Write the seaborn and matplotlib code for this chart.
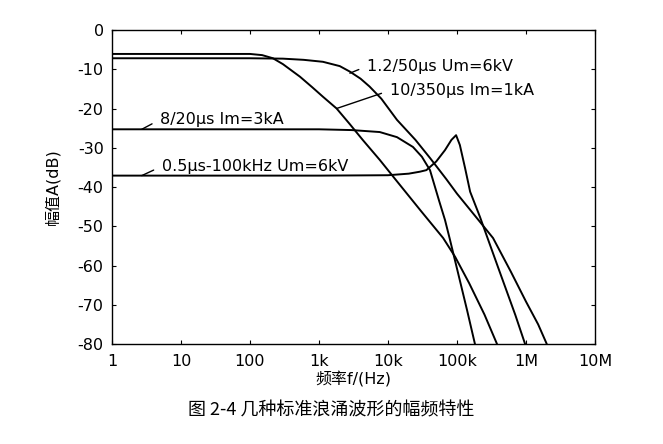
import pandas as pd
import matplotlib
matplotlib.use('Agg')
import matplotlib.pyplot as plt
import seaborn as sns

# Amplitude spectra of standard surge waveforms
# frequency in Hz, amplitude in dB

f_1_2_50 = [1, 100, 300, 600, 1140, 2000, 2800, 4000, 5400, 8000, 13500, 25000, 40600,
            70000, 100000, 200000, 333000, 600000, 1.0e6, 1.5e6, 2.0e6]
a_1_2_50 = [-7.2, -7.2, -7.3, -7.6, -8.1, -9.2, -10.6, -12.4, -14.4, -17.5, -22.9, -28.0, -32.6,
            -38.0, -41.7, -48.2, -53.0, -61.5, -69.2, -75.0, -80.0]

f_10_350 = [1, 100, 150, 215, 300, 530, 800, 1140, 1800, 2800, 4300, 7600, 13000,
            30000, 63000, 94000, 150000, 250000, 380000]
a_10_350 = [-6.1, -6.1, -6.4, -7.2, -8.7, -11.9, -14.6, -17.0, -20.0, -24.0, -28.0, -33.1, -38.2,
            -46.1, -53.0, -57.8, -64.5, -72.5, -80.0]

f_8_20 = [1, 1000, 3000, 7600, 13500, 23000, 31000, 40600, 55000, 67000, 78000,
          100000, 140000, 182000]
a_8_20 = [-25.3, -25.3, -25.5, -26.0, -27.3, -29.8, -32.3, -35.7, -43.5, -48.4, -53.0,
          -60.8, -71.4, -80.0]

f_ring = [1, 1000, 10000, 20000, 29000, 36000, 50000, 67000, 83000, 97000, 110000,
          131000, 155000, 215000, 400000, 700000, 970000]
a_ring = [-37.1, -37.1, -37.0, -36.6, -36.1, -35.7, -33.5, -30.6, -28.0, -26.8, -29.3,
          -35.2, -41.2, -47.6, -60.8, -72.6, -80.0]

series_names = ['1.2/50μs Um=6kV', '10/350μs Im=1kA', '8/20μs Im=3kA', '0.5μs-100kHz Um=6kV']

x_ticks = [1, 10, 100, 1e3, 1e4, 1e5, 1e6, 1e7]
x_tick_labels = ['1', '10', '100', '1k', '10k', '100k', '1M', '10M']
y_ticks = [0, -10, -20, -30, -40, -50, -60, -70, -80]
y_tick_labels = ['0', '-10', '-20', '-30', '-40', '-50', '-60', '-70', '-80']

# leader lines: point on the curve -> start of the label text
label_anchor = [(2800, -11.0), (1800, -20.0), (2.7, -25.3), (2.7, -37.1)]
label_text_pos = [(5000, -9.2), (10700, -15.4), (5.0, -22.8), (5.3, -34.7)]

frames = []
for name, f, a in zip(series_names,
                      [f_1_2_50, f_10_350, f_8_20, f_ring],
                      [a_1_2_50, a_10_350, a_8_20, a_ring]):
    frames.append(pd.DataFrame({'f': f, 'A': a, 'wave': name}))
df = pd.concat(frames, ignore_index=True)

sns.set_theme(style='ticks')
plt.rcParams['font.family'] = ['DejaVu Sans', 'Noto Sans CJK SC']
plt.rcParams['axes.unicode_minus'] = False
plt.rcParams['text.color'] = 'black'
plt.rcParams['axes.labelcolor'] = 'black'

fig = plt.figure(figsize=(6.63, 4.44), dpi=100)
ax = fig.add_axes([112 / 663, 1 - 344 / 444, 483 / 663, 314 / 444])

sns.lineplot(data=df, x='f', y='A', hue='wave', palette=['black'] * 4,
             estimator=None, sort=False, linewidth=1.4, legend=False, ax=ax)

ax.set_xscale('log')
ax.set_xlim(1, 1e7)
ax.set_ylim(-80, 0)
ax.set_xticks(x_ticks)
ax.set_xticklabels(x_tick_labels)
ax.set_yticks(y_ticks)
ax.set_yticklabels(y_tick_labels)
ax.minorticks_off()
ax.tick_params(direction='in', length=3, width=0.8, top=True, right=True,
               labelsize=11.5, colors='black')
ax.tick_params(axis='x', pad=7)
ax.tick_params(axis='y', pad=6)
for sp in ax.spines.values():
    sp.set_color('black')
    sp.set_linewidth(1.0)

for name, xy, xt in zip(series_names, label_anchor, label_text_pos):
    ax.annotate(name, xy=xy, xytext=xt, ha='left', va='center', fontsize=11.5, color='black',
                arrowprops=dict(arrowstyle='-', color='black', lw=1.0,
                                relpos=(0, 0.5), shrinkA=4, shrinkB=0))

ax.set_xlabel('频率f/(Hz)', fontsize=11.5, labelpad=2, color='black')
ax.set_ylabel('幅值A(dB)', fontsize=11.5, labelpad=12, color='black')

fig.text(0.5, 1 - 410 / 444, '图 2-4 几种标准浪涌波形的幅频特性', ha='center', va='center',
         fontsize=13, color='black', family=['Noto Sans CJK SC'])

fig.savefig('out.png', dpi=100, facecolor='white')
